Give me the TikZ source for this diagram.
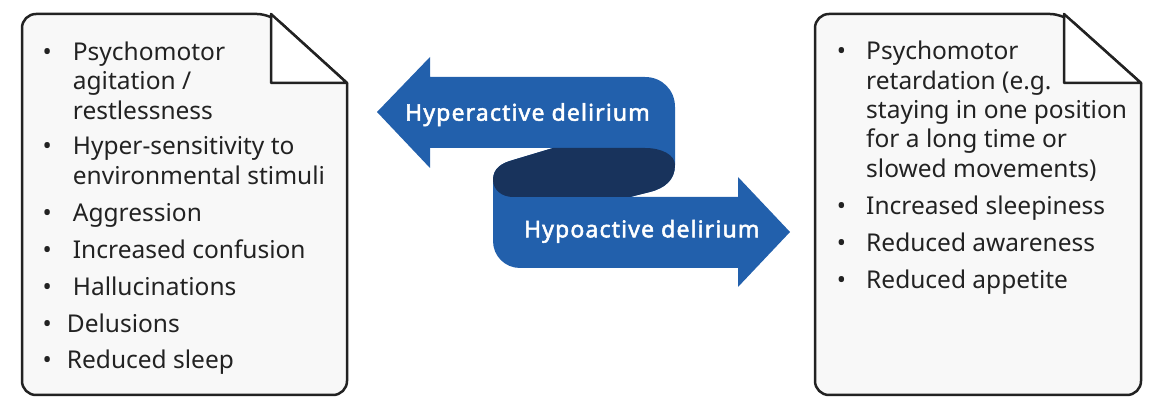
\documentclass[tikz,border=0pt]{standalone}
\usepackage{fontspec}
\setmainfont{Noto Sans}
\newfontfamily\bannerfont{Noto Sans}[FakeBold=2.2, LetterSpace=5]
\definecolor{ribbonblue}{HTML}{2260AC}
\definecolor{folddark}{HTML}{18335C}
\definecolor{paper}{HTML}{F8F8F8}
\definecolor{ink}{HTML}{222222}
\newcommand\bul[1][21]{\llap{\textbullet\hspace{#1pt}}}

\begin{document}
\begin{tikzpicture}[x=1pt, y=-1pt,
    every node/.append style={inner sep=0pt},
    doc/.style={fill=paper, draw=ink, line width=2.5pt, line join=round},
    fold/.style={fill=white, draw=ink, line width=2.5pt, line join=round},
    point/.style={anchor=base west, align=left, text=ink, font=\fontsize{24.5}{29.3}\selectfont},
    banner/.style={anchor=base, text=white, font=\fontsize{23}{26}\selectfont\bannerfont}]
  \useasboundingbox (0,0) rectangle (1165,411);

  % left sheet
  \draw[doc] (347,83) [rounded corners=14pt] -- (347,395) -- (22,395) -- (22,14) -- (271,14) [sharp corners] -- cycle;
  \draw[fold] (271,14) -- (271,83) -- (347,83) -- cycle;
  % right sheet
  \draw[doc] (1141,83) [rounded corners=14pt] -- (1141,395) -- (815,395) -- (815,14) -- (1064,14) [sharp corners] -- cycle;
  \draw[fold] (1064,14) -- (1064,83) -- (1141,83) -- cycle;

  % ribbon
  \fill[ribbonblue] (377,112) -- (430,57) -- (430,77) -- (645,77)
    .. controls (662,77) and (675,90) .. (675,107) -- (675,165)
    .. controls (675,180) and (665,188) .. (650,192) -- (630,197)
    -- (738,197) -- (738,177) -- (790,232) -- (738,287) -- (738,268) -- (520,268)
    .. controls (505,268) and (493,256) .. (493,241) -- (493,180)
    .. controls (493,168) and (502,163) .. (513,160) -- (553,148)
    -- (430,148) -- (430,168) -- cycle;
  \fill[folddark] (553,148) -- (645,148) .. controls (662,148) and (675,155) .. (675,165)
    .. controls (675,180) and (665,188) .. (650,192) -- (630,197) -- (513,197)
    .. controls (502,197) and (493,190) .. (493,180)
    .. controls (493,168) and (502,163) .. (513,160) -- cycle;
  \node (hyper) [banner] at (527.5,120.7) {Hyperactive delirium};
  \node (hypo) [banner] at (641.7,237.3) {Hypoactive delirium};

  % hyperactive signs (base = last line)
  \node (agitation) [point] at (72.7,119.3) {\bul Psychomotor\\agitation /\\restlessness};
  \node (sensitivity) [point] at (72.7,184.3) {\bul Hyper-sensitivity to\\environmental stimuli};
  \node (aggression) [point] at (72.7,221.7) {\bul Aggression};
  \node (confusion) [point] at (72.7,258.3) {\bul Increased confusion};
  \node (hallucinations) [point] at (72.7,296) {\bul Hallucinations};
  \node (delusions) [point] at (66.7,332.7) {\bul[15]Delusions};
  \node (sleep) [point] at (66.7,368.7) {\bul[15]Reduced sleep};

  % hypoactive signs
  \node (retardation) [point] at (866,177.2) {\bul[20]Psychomotor\\retardation (e.g.\\staying in one position\\for a long time or\\slowed movements)};
  \node (sleepiness) [point] at (866,215) {\bul[20]Increased sleepiness};
  \node (awareness) [point] at (866,251.7) {\bul[20]Reduced awareness};
  \node (appetite) [point] at (866,288.3) {\bul[20]Reduced appetite};
\end{tikzpicture}
\end{document}
